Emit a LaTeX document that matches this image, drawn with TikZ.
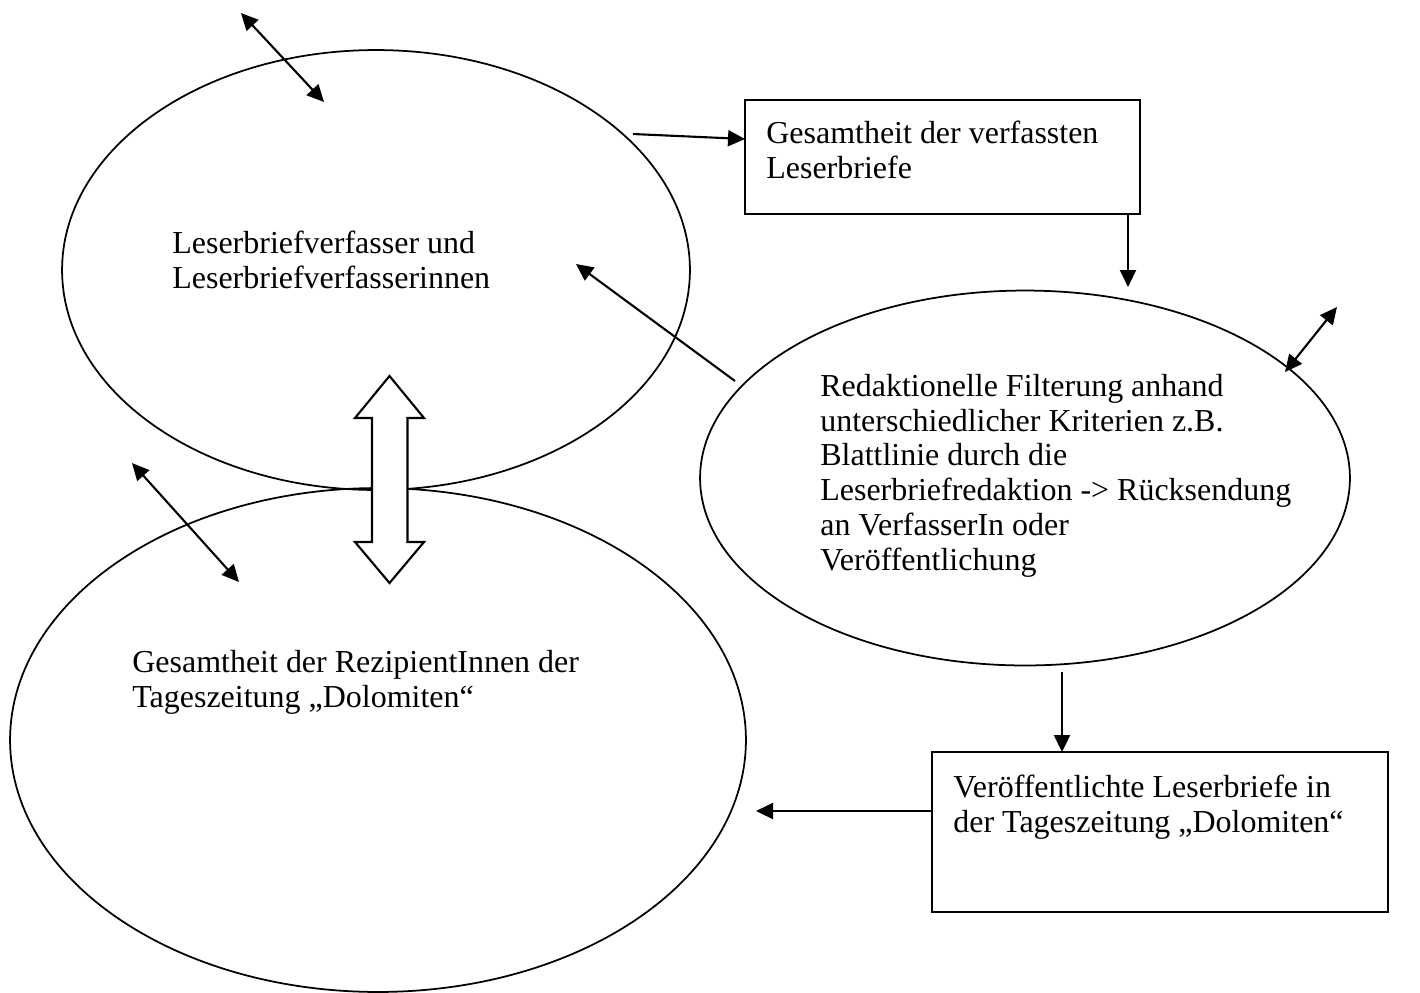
\documentclass[tikz,border=0pt]{standalone}
\usepackage{fontspec}
\setmainfont{Liberation Serif}
\usetikzlibrary{arrows.meta,shapes.geometric}

\begin{document}
\begin{tikzpicture}[x=0.02cm,y=-0.02cm,
  blob/.style={draw,ellipse,line width=1pt,inner sep=0pt,outer sep=0pt},
  card/.style={draw,rectangle,line width=1pt,inner sep=0pt,outer sep=0pt},
  words/.style={anchor=base west,align=left,inner sep=0pt,font=\fontsize{18.2}{19.75}\selectfont},
  flow/.style={line width=1.2pt,-{Triangle[length=0.34cm,width=0.32cm]}},
  both/.style={line width=1.2pt,{Triangle[length=0.34cm,width=0.32cm]}-{Triangle[length=0.34cm,width=0.32cm]}}]
\useasboundingbox (0,0) rectangle (1420,992); % page frame
% ellipses
\node[blob,minimum width=12.56cm,minimum height=8.8cm] (authors) at (376,270) {}; % writers
\node[blob,minimum width=14.72cm,minimum height=10.08cm] (readers) at (378,740) {}; % recipients
\node[blob,minimum width=13cm,minimum height=7.5cm] (filter) at (1025,478) {}; % editorial filter
% boxes
\node[card,minimum width=7.9cm,minimum height=2.28cm] (written) at (942.5,157) {}; % all letters
\node[card,minimum width=9.12cm,minimum height=3.2cm] (printed) at (1160,832) {}; % published letters
% texts (anchored at the baseline of the last line)
\node[words] (tauthors) at (172,288) {Leserbriefverfasser und\\Leserbriefverfasserinnen};
\node[words] (twritten) at (766,178) {Gesamtheit der verfassten\\Leserbriefe};
\node[words] (tfilter) at (820,570) {Redaktionelle Filterung anhand\\unterschiedlicher Kriterien z.B.\\Blattlinie durch die\\Leserbriefredaktion -> Rücksendung\\an VerfasserIn oder\\Veröffentlichung};
\node[words] (treaders) at (132,707) {Gesamtheit der RezipientInnen der\\Tageszeitung „Dolomiten“};
\node[words] (tprinted) at (953,832) {Veröffentlichte Leserbriefe in\\der Tageszeitung „Dolomiten“};
% connector ends
\coordinate (p1) at (241,13); \coordinate (p2) at (324,102); % top double arrow
\coordinate (q1) at (1337,307); \coordinate (q2) at (1285,372); % right double arrow
\coordinate (r1) at (132,463); \coordinate (r2) at (239,582); % left double arrow
\coordinate (s1) at (633,134); \coordinate (s2) at (745,139); % to all letters
\coordinate (u1) at (735,381); \coordinate (u2) at (576,264); % back to writers
\coordinate (v1) at (1062,672); % down from filter
\coordinate (w1) at (756,811); % to recipients
% arrows
\draw[both] (p1) -- (p2);
\draw[both] (q1) -- (q2);
\draw[both] (r1) -- (r2);
\draw[flow] (s1) -- (s2);
\draw[flow] (written.south -| 1128,0) -- (1128,287);
\draw[flow] (u1) -- (u2);
\draw[flow] (v1) -- (v1 |- printed.north);
\draw[flow] (printed.west |- w1) -- (w1);
% block double arrow
\draw[line width=1.2pt,fill=white] (389.5,376) -- (424,418) -- (407.5,418) -- (407.5,542) -- (424,542)
  -- (389.5,583) -- (355,542) -- (372,542) -- (372,418) -- (355,418) -- cycle;
\end{tikzpicture}
\end{document}
